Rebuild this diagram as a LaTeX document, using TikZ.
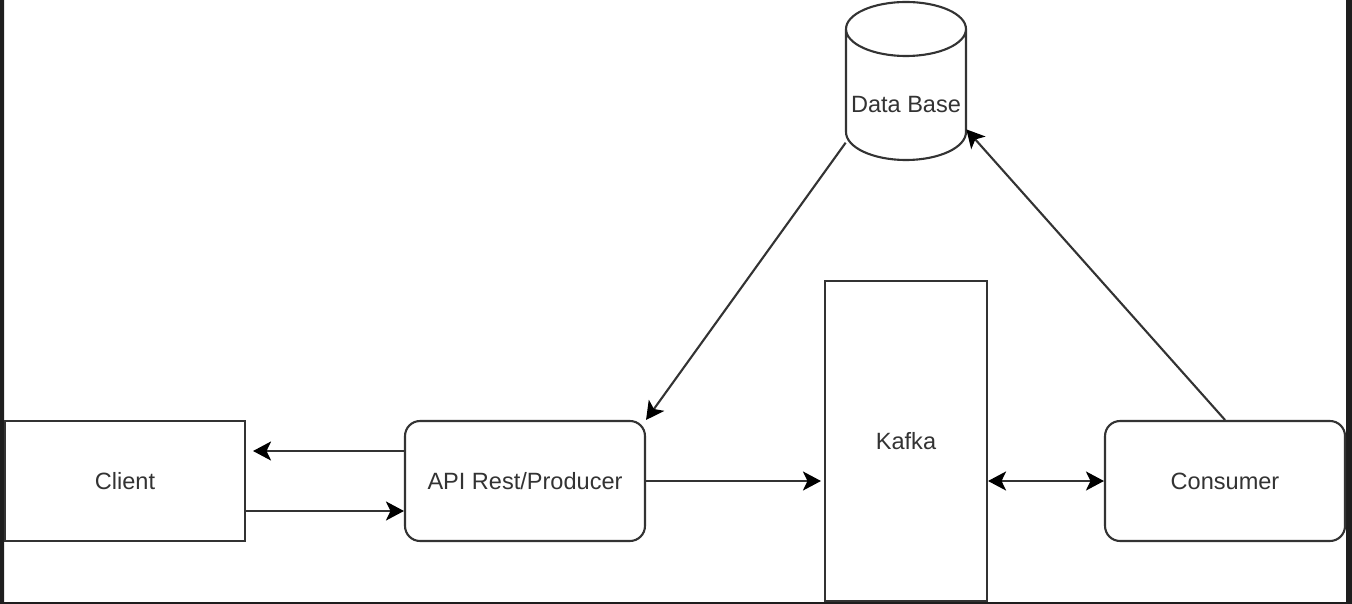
\documentclass[tikz,border=0pt]{standalone}
\usepackage{fontspec}
\setmainfont{Liberation Sans}
\usetikzlibrary{arrows.meta}

\definecolor{linegray}{HTML}{333333}
\definecolor{framegray}{HTML}{1E1E1E}

\begin{document}
\begin{tikzpicture}[x=0.02cm, y=-0.02cm,
    every node/.style={font=\fontsize{13.4pt}{16pt}\selectfont, text=linegray, inner sep=0pt},
    box/.style={draw=linegray, line width=1.2pt, fill=white, minimum width=4.8cm, minimum height=2.4cm},
    tip/.tip={Stealth[length=0.36cm, width=0.38cm, inset=0.09cm, color=black]},
    link/.style={draw=linegray, line width=1.2pt, -tip}]
      \useasboundingbox (0,0) rectangle (1352,604);
      % dark frame of the screenshot
      \fill[framegray] (0,0) rectangle (4,604) (1346,0) rectangle (1352,604) (0,602) rectangle (1352,604);
      \draw
        (125,481) node[box] (client){Client}
        (525,481) node[box,rounded corners=0.3cm] (api){API Rest/Producer}
        (906,441) node[box,minimum width=3.24cm,minimum height=6.4cm] (kafka){Kafka}
        (1225,481) node[box,rounded corners=0.3cm] (consumer){Consumer}
        (906,105) node[minimum width=2.4cm,minimum height=2.2cm] (db){Data Base};
      % cylinder of the data base
      \draw[linegray, line width=1.2pt]
        (906,29) ellipse [x radius=1.2cm, y radius=0.54cm]
        (846,29) -- (846,132) arc [start angle=180, end angle=360, x radius=1.2cm, y radius=0.56cm] -- (966,29);
      \begin{scope}[link]
        \draw[shorten >=0.14cm] ([yshift=0.6cm]api.west) -- ([yshift=0.6cm]client.east);
        \draw ([yshift=-0.6cm]client.east) -- ([yshift=-0.6cm]api.west);
        \draw[shorten >=0.06cm] (api.east) -- (api.east -| kafka.west);
        \draw[tip-tip] (consumer.west -| kafka.east) -- (consumer.west);
        \draw (db.-148) -- (api.north east);
        \draw (consumer.north) -- (db.-22);
      \end{scope}
    \end{tikzpicture}
\end{document}
